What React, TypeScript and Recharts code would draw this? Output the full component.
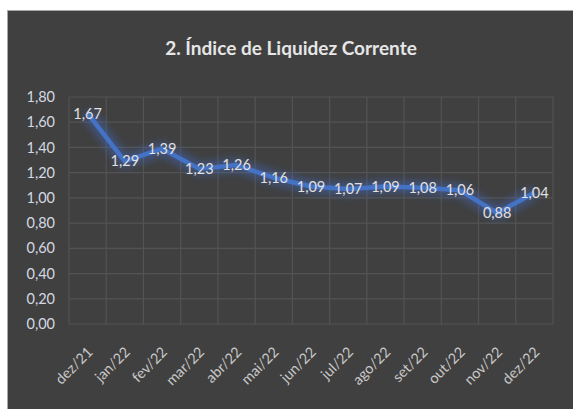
import { LineChart, Line, XAxis, YAxis, CartesianGrid, LabelList } from "recharts";

const meses = ["dez/21", "jan/22", "fev/22", "mar/22", "abr/22", "mai/22", "jun/22", "jul/22", "ago/22", "set/22", "out/22", "nov/22", "dez/22"];
const liquidez = [1.67, 1.29, 1.39, 1.23, 1.26, 1.16, 1.09, 1.07, 1.09, 1.08, 1.06, 0.88, 1.04];
const yTicks = [0, 0.2, 0.4, 0.6, 0.8, 1.0, 1.2, 1.4, 1.6, 1.8];

const fmt = (v: number) => v.toFixed(2).replace(".", ",");

const FONT = "Lato, 'Open Sans', sans-serif";

function MesTick({ x, y, payload }: any) {
    return (
        <text
            x={x + 6}
            y={y + 21}
            transform={`rotate(-45, ${x + 6}, ${y + 21})`}
            textAnchor="end"
            fill="#c8c8c8"
            fontSize={14.5}
            fontFamily={FONT}
        >
            {payload.value}
        </text>
    );
}

export default function App() {
    const data = meses.map((m, i) => ({ mes: m, valor: liquidez[i] }));

    return (
        <div style={{ position: "absolute", left: 0, top: 0, width: 573, height: 409, background: "#fff" }}>
            <div style={{ position: "absolute", left: 7, top: 10, width: 566, height: 399, background: "#404040", borderTop: "1px solid #a8a8a8", borderLeft: "1px solid #a8a8a8", boxSizing: "border-box" }}>
                <div style={{ position: "absolute", left: 0, top: 25, width: 566, textAlign: "center", color: "#e6e6e6", fontFamily: FONT, fontWeight: 700, fontSize: 19 }}>
                    2. Índice de Liquidez Corrente
                </div>
                <LineChart width={565} height={398} data={data} margin={{ top: 86, right: 20, bottom: 0, left: 0 }}>
                    <defs>
                        <filter id="glow" x="-20%" y="-50%" width="140%" height="200%">
                            <feGaussianBlur stdDeviation="4" />
                        </filter>
                    </defs>
                    <CartesianGrid
                        stroke="#535353"
                        strokeWidth={1.2}
                        verticalCoordinatesGenerator={({ offset }: any) =>
                            Array.from({ length: meses.length + 1 }, (_, i) => offset.left + (i * offset.width) / meses.length)
                        }
                    />
                    <XAxis
                        dataKey="mes"
                        interval={0}
                        height={85}
                        axisLine={false}
                        tickLine={false}
                        padding={{ left: 18.6, right: 18.6 }}
                        tick={<MesTick />}
                    />
                    <YAxis
                        domain={[0, 1.8]}
                        ticks={yTicks}
                        width={61}
                        axisLine={false}
                        tickLine={false}
                        tickSize={0}
                        tickMargin={14}
                        tickFormatter={fmt}
                        tick={{ fill: "#d4d8e0", fontSize: 14.5, fontFamily: FONT }}
                    />
                    <Line
                        dataKey="valor"
                        stroke="#3f6fd8"
                        strokeWidth={12}
                        strokeOpacity={0.45}
                        filter="url(#glow)"
                        dot={false}
                        activeDot={false}
                        isAnimationActive={false}
                    />
                    <Line
                        dataKey="valor"
                        stroke="#4472C4"
                        strokeWidth={4.5}
                        strokeLinejoin="round"
                        dot={false}
                        activeDot={false}
                        isAnimationActive={false}
                    >
                        <LabelList
                            dataKey="valor"
                            position="center"
                            formatter={(v: any) => fmt(Number(v))}
                            fill="#e0e0e0"
                            fontSize={14.5}
                            fontFamily={FONT}
                        />
                    </Line>
                </LineChart>
            </div>
        </div>
    );
}
